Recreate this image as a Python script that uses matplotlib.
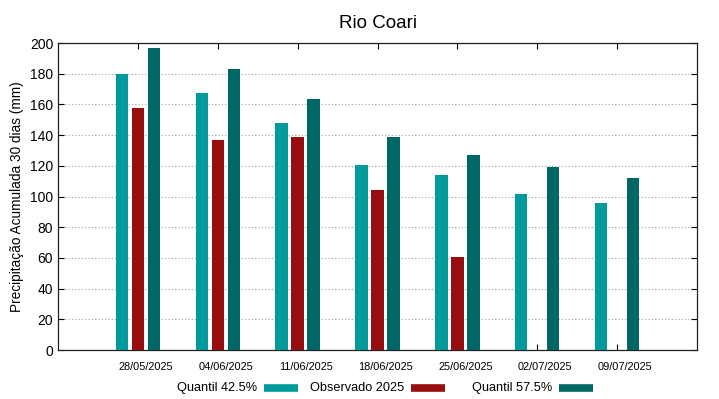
import numpy as np
import matplotlib
matplotlib.use("Agg")
import matplotlib.pyplot as plt
import matplotlib.transforms as mtransforms
from matplotlib.lines import Line2D

plt.rcParams["font.family"] = ["Liberation Sans", "DejaVu Sans"]

# dados
datas = ["28/05/2025", "04/06/2025", "11/06/2025", "18/06/2025",
         "25/06/2025", "02/07/2025", "09/07/2025"]
quantil_425 = [180, 167.5, 148, 120.5, 114, 101.5, 95.5]
observado = [157.5, 137, 138.5, 104, 60.5, np.nan, np.nan]
quantil_575 = [196.5, 183, 163.5, 139, 127, 119, 112]
nomes = ["Quantil 42.5%", "Observado 2025", "Quantil 57.5%"]

cor_q1 = "#009a9a"
cor_obs = "#980e0e"
cor_q2 = "#006767"

W, H = 719, 399
fig = plt.figure(figsize=(W / 100, H / 100), dpi=100)
ax = fig.add_axes([0.0807, 0.1228, 0.8887, 0.7694])

x = np.arange(1, len(datas) + 1)
w = 0.155
ax.bar(x - 0.2, quantil_425, width=w, color=cor_q1, zorder=3)
ax.bar(x, observado, width=w, color=cor_obs, zorder=3)
ax.bar(x + 0.2, quantil_575, width=w, color=cor_q2, zorder=3)

ax.set_xlim(0, 8)
ax.set_ylim(0, 200)
ax.set_yticks(np.arange(0, 201, 20))
ax.set_xticks(x)
ax.set_xticklabels(datas, fontsize=7.9)
ax.tick_params(axis="y", labelsize=10, direction="in", right=True, length=4)
ax.tick_params(axis="x", direction="in", top=True, length=4, pad=8.5)
offset = mtransforms.ScaledTranslation(8 / 100, 0, fig.dpi_scale_trans)
for lbl in ax.get_xticklabels():
    lbl.set_transform(lbl.get_transform() + offset)

ax.yaxis.grid(True, linestyle=(0, (1, 2)), color="#a0a0a0", linewidth=0.8, zorder=0)
for s in ax.spines.values():
    s.set_linewidth(0.9)
    s.set_color("#202020")

ax.set_ylabel("Precipitação Acumulada 30 dias (mm)", fontsize=9.8)
ax.set_title("Rio Coari", fontsize=13.5, pad=11)

# legenda estilo gnuplot: texto e amostra à direita
legend_y = 1 - 388 / H
texto_fim = [257, 404, 552]
for nome, cor, xf in zip(nomes, [cor_q1, cor_obs, cor_q2], texto_fim):
    fig.text(xf / W, legend_y, nome, ha="right", va="center", fontsize=9.2)
    fig.add_artist(Line2D([(xf + 7) / W, (xf + 41) / W], [legend_y, legend_y],
                          transform=fig.transFigure, color=cor, linewidth=5.5,
                          solid_capstyle="butt"))

fig.savefig("out.png", dpi=100)
